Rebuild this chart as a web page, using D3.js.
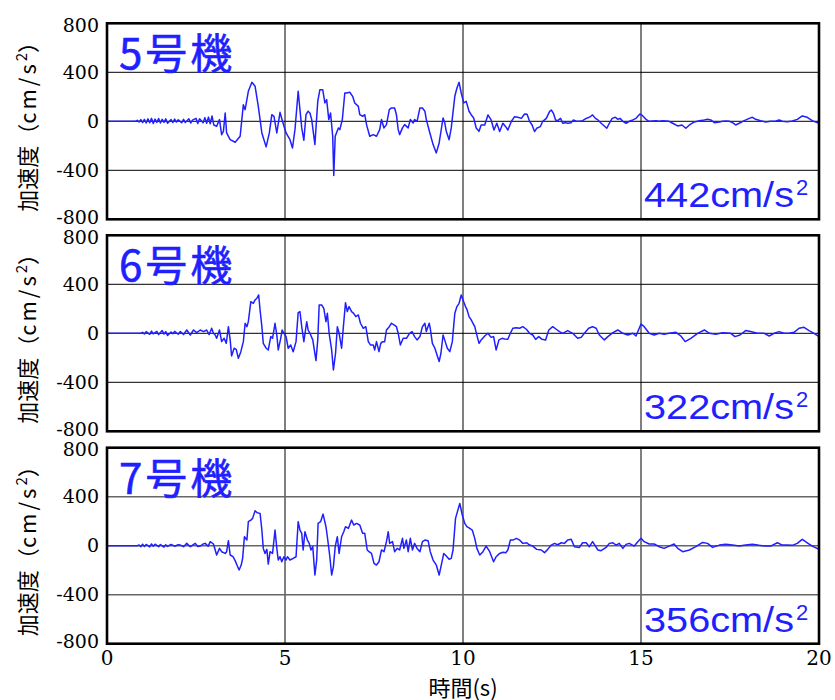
<!DOCTYPE html>
<html>
<head>
<meta charset="utf-8">
<script src="https://cdn.jsdelivr.net/npm/d3@7"></script>
<style>
  body { margin: 0; background: #fff; }
  svg { display: block; }
</style>
</head>
<body>
<div id="chart"></div>
<script>
// panel names and peak labels
var units = ["5号機", "6号機", "7号機"];
var peaks = ["442", "322", "356"];
var xTicks = [0, 5, 10, 15, 20];
var yTicks = [-800, -400, 0, 400, 800];

// acceleration records: [time s, cm/s2]
var unit5 = [[0,0],[0.8,0],[0.85,8],[0.9,-6],[0.95,14],[1.0,-10],[1.05,16],[1.1,-14],[1.15,20],[1.2,-12],[1.25,24],[1.3,-18],[1.35,18],[1.4,-10],[1.45,22],[1.5,-14],[1.55,16],[1.6,-8],[1.65,20],[1.7,-16],[1.8,14],[1.85,-10],[1.9,18],[1.95,-6],[2.0,12],[2.1,-12],[2.15,16],[2.2,-10],[2.3,20],[2.35,-14],[2.4,10],[2.5,24],[2.55,-18],[2.6,20],[2.7,-12],[2.75,30],[2.8,-16],[2.85,34],[2.9,-20],[2.95,44],[3.0,-30],
  [3.08,-41],[3.16,14],[3.22,-109],[3.27,-82],[3.32,68],[3.36,-95],[3.46,-150],[3.6,-171],[3.74,-122],[3.83,136],[3.88,95],[3.97,245],[4.07,318],[4.16,286],[4.25,122],[4.35,-95],[4.47,-209],[4.56,-95],[4.63,54],[4.69,41],[4.77,-95],[4.86,73],[4.93,0],[5.03,-95],[5.14,-150],[5.21,-218],[5.28,-68],[5.37,245],[5.42,95],[5.47,-54],[5.53,-155],[5.59,54],[5.65,82],[5.7,68],[5.75,14],[5.84,-190],[5.92,163],[5.98,258],[6.06,258],[6.12,150],[6.17,177],[6.23,14],[6.28,68],[6.34,-122],[6.37,-442],[6.41,-122],[6.5,-54],[6.54,-68],[6.61,14],[6.68,231],[6.73,231],[6.82,237],[6.9,204],[6.96,150],[7.06,122],[7.1,54],[7.18,41],[7.24,54],[7.29,-27],[7.38,-122],[7.48,-109],[7.57,-122],[7.66,-68],[7.71,14],[7.78,-54],[7.85,-27],[7.93,95],[7.99,109],[8.08,109],[8.13,54],[8.18,-68],[8.22,-109],[8.3,-54],[8.36,-27],[8.46,-54],[8.52,14],[8.6,-14],[8.64,14],[8.71,0],[8.79,109],[8.86,109],[8.93,82],[8.97,14],[9.07,-95],[9.16,-190],[9.25,-258],[9.33,-177],[9.44,27],[9.49,-14],[9.53,-82],[9.61,-150],[9.67,-54],[9.77,204],[9.83,272],[9.89,318],[9.95,231],[10.02,150],[10.09,163],[10.17,82],[10.23,54],[10.3,27],[10.37,-54],[10.45,-82],
  [10.51,-30],[10.61,-30],[10.7,52],[10.79,11],[10.87,-71],[10.95,-16],[11.03,-84],[11.12,-16],[11.2,-44],[11.26,-71],[11.36,0],[11.45,38],[11.54,33],[11.64,24],[11.73,60],[11.8,57],[11.87,0],[11.94,-30],[12.01,-84],[12.07,-57],[12.17,-44],[12.24,0],[12.34,24],[12.43,79],[12.48,92],[12.54,65],[12.6,11],[12.66,5],[12.74,24],[12.8,-16],[12.88,-11],[12.94,-16],[13.04,-11],[13.1,11],[13.18,0],[13.27,0],[13.36,5],[13.46,24],[13.55,33],[13.64,52],[13.72,24],[13.79,11],[13.88,-16],[13.97,-38],[14.04,-57],[14.11,-16],[14.19,24],[14.28,33],[14.35,16],[14.41,24],[14.49,0],[14.58,-16],[14.67,0],[14.77,11],[14.86,24],[14.97,60],[15.05,44],[15.14,16],[15.23,0],[15.33,3],[15.42,5],[15.51,0],[15.61,5],[15.7,3],[15.79,0],[15.89,-16],[16.03,-38],[16.15,-30],[16.26,-57],[16.36,-30],[16.5,-5],[16.64,5],[16.78,11],[16.87,16],[16.96,11],[17.06,-11],[17.2,-5],[17.29,0],[17.38,3],[17.48,0],[17.57,-11],[17.66,-30],[17.76,-16],[17.9,5],[18.04,24],[18.13,33],[18.22,16],[18.36,5],[18.5,-5],[18.64,0],[18.79,3],[18.88,11],[18.97,0],[19.11,-3],[19.25,3],[19.39,16],[19.53,44],[19.67,33],[19.81,5],[19.95,-11],[20,-11]];

var unit6 = [[0,0],[0.95,0],[1.0,8],[1.05,-6],[1.1,14],[1.2,-8],[1.25,18],[1.3,-4],[1.4,16],[1.45,-10],[1.55,22],[1.6,-6],[1.65,14],[1.7,-18],[1.8,10],[1.85,-4],[1.9,16],[2.0,-8],
  [2.06,14],[2.15,-10],[2.24,27],[2.34,-14],[2.43,27],[2.52,5],[2.62,27],[2.71,14],[2.8,27],[2.87,-10],[2.94,41],[2.99,0],[3.04,-14],[3.08,-41],[3.16,27],[3.22,-68],[3.29,-41],[3.35,-82],[3.41,54],[3.46,-54],[3.5,-185],[3.57,-122],[3.63,-131],[3.69,-204],[3.76,-150],[3.83,-68],[3.88,82],[3.93,54],[3.97,95],[4.04,258],[4.11,245],[4.16,272],[4.21,286],[4.26,313],[4.3,190],[4.35,54],[4.39,-82],[4.47,-122],[4.53,-136],[4.6,-27],[4.65,-41],[4.72,82],[4.77,-14],[4.81,-136],[4.88,-41],[4.92,27],[4.97,0],[5.03,-27],[5.09,-122],[5.16,-95],[5.23,-150],[5.31,-68],[5.37,169],[5.42,177],[5.47,54],[5.53,-68],[5.61,95],[5.65,27],[5.7,0],[5.78,-54],[5.87,-223],[5.92,-54],[5.96,231],[6.03,231],[6.09,204],[6.15,95],[6.19,163],[6.24,0],[6.31,-136],[6.36,-299],[6.42,-163],[6.47,54],[6.52,0],[6.59,-122],[6.64,54],[6.7,250],[6.75,177],[6.8,218],[6.87,177],[6.93,163],[6.99,136],[7.06,150],[7.12,82],[7.2,41],[7.27,54],[7.34,-68],[7.4,-95],[7.48,-95],[7.52,-136],[7.57,-68],[7.64,-150],[7.69,-82],[7.74,-68],[7.8,-68],[7.85,27],[7.93,54],[7.99,82],[8.06,68],[8.13,54],[8.18,0],[8.24,-95],[8.32,-41],[8.41,-41],[8.5,0],[8.57,14],[8.64,-27],[8.71,-54],[8.79,-27],[8.86,54],[8.93,82],[8.97,14],[9.05,82],[9.08,41],[9.14,-82],[9.21,-122],[9.27,-177],[9.33,-231],[9.38,-163],[9.44,-14],[9.5,-68],[9.56,-122],[9.63,-150],[9.7,-68],[9.77,163],[9.83,218],[9.89,245],[9.95,313],[10.0,272],[10.07,218],[10.11,196],[10.17,136],[10.23,109],[10.33,54],[10.4,-27],
  [10.45,-82],[10.51,-54],[10.61,-22],[10.7,0],[10.79,-33],[10.86,-27],[10.93,-136],[11.01,-54],[11.1,-41],[11.17,-46],[11.26,-49],[11.33,0],[11.4,41],[11.5,46],[11.59,41],[11.68,54],[11.78,33],[11.87,0],[11.96,-14],[12.04,-49],[12.13,-27],[12.22,-49],[12.32,-54],[12.41,27],[12.52,54],[12.62,33],[12.71,14],[12.8,0],[12.94,22],[13.08,0],[13.22,-41],[13.32,-33],[13.41,0],[13.53,41],[13.64,54],[13.74,41],[13.83,-14],[13.97,-54],[14.07,-27],[14.21,5],[14.35,27],[14.49,0],[14.63,-14],[14.77,0],[14.86,-22],[15.0,76],[15.09,54],[15.23,0],[15.37,-14],[15.51,0],[15.65,-8],[15.79,0],[15.98,8],[16.12,-22],[16.24,-68],[16.4,-41],[16.59,0],[16.78,27],[16.92,0],[17.1,-8],[17.29,5],[17.52,0],[17.64,-27],[17.78,-14],[17.94,22],[18.08,14],[18.27,0],[18.46,0],[18.6,-22],[18.74,0],[18.88,14],[19.02,0],[19.16,0],[19.3,8],[19.44,41],[19.58,49],[19.72,22],[19.86,0],[20,-27]];

var unit7 = [[0,0],[0.85,0],[0.9,6],[0.95,-8],[1.0,12],[1.05,-6],[1.1,10],[1.2,-10],[1.25,14],[1.3,-4],[1.35,12],[1.45,-8],[1.5,10],[1.6,-12],[1.65,8],[1.7,-6],[1.8,10],[1.9,-4],[2.0,8],
  [2.06,5],[2.15,-8],[2.24,19],[2.34,-8],[2.48,19],[2.55,-6],[2.62,-3],[2.7,14],[2.76,19],[2.84,-5],[2.9,33],[2.99,14],[3.08,-76],[3.16,-22],[3.22,-49],[3.32,-63],[3.36,-49],[3.41,41],[3.46,-76],[3.54,-90],[3.6,-122],[3.65,-158],[3.71,-199],[3.77,-158],[3.81,-103],[3.86,73],[3.93,46],[3.97,196],[4.04,209],[4.09,223],[4.16,286],[4.22,269],[4.3,264],[4.35,128],[4.39,-22],[4.44,-63],[4.49,-30],[4.53,-150],[4.58,-49],[4.65,-63],[4.72,128],[4.77,-22],[4.81,-117],[4.86,-90],[4.91,-130],[4.97,-90],[5.03,-117],[5.07,-90],[5.14,-117],[5.23,-103],[5.31,-90],[5.37,196],[5.42,128],[5.47,101],[5.51,-35],[5.56,114],[5.63,46],[5.68,19],[5.73,-35],[5.78,-8],[5.84,-239],[5.89,-117],[5.93,182],[6.0,196],[6.07,258],[6.15,155],[6.19,73],[6.26,-90],[6.31,-239],[6.36,-171],[6.41,-8],[6.47,73],[6.52,-63],[6.59,73],[6.65,114],[6.7,155],[6.78,141],[6.87,209],[6.93,169],[7.01,182],[7.1,169],[7.18,101],[7.24,101],[7.31,-35],[7.36,-49],[7.43,-63],[7.5,-144],[7.57,-158],[7.64,-131],[7.71,-35],[7.78,-49],[7.85,33],[7.9,114],[7.94,19],[8.02,33],[8.08,-49],[8.15,-22],[8.22,-35],[8.3,60],[8.34,-22],[8.41,46],[8.46,-49],[8.52,60],[8.58,-35],[8.64,19],[8.71,-22],[8.79,-49],[8.86,33],[8.93,46],[9.02,41],[9.08,-49],[9.16,-117],[9.25,-158],[9.33,-239],[9.39,-158],[9.46,-63],[9.53,-84],[9.61,-111],[9.67,-103],[9.72,-35],[9.79,223],[9.83,264],[9.91,345],[9.98,250],[10.05,182],[10.11,155],[10.19,141],[10.26,128],[10.33,60],[10.39,-22],
  [10.47,-76],[10.56,-49],[10.65,-3],[10.75,-49],[10.86,-131],[10.93,-90],[11.03,-63],[11.12,-54],[11.2,-57],[11.26,-35],[11.33,46],[11.4,46],[11.5,60],[11.59,46],[11.68,19],[11.79,24],[11.87,5],[11.96,-3],[12.07,-30],[12.2,-35],[12.29,-57],[12.38,-30],[12.48,5],[12.57,19],[12.66,8],[12.76,24],[12.85,19],[12.94,46],[13.04,52],[13.13,-8],[13.27,-14],[13.36,24],[13.46,24],[13.55,-8],[13.64,33],[13.79,-35],[13.88,-41],[14.02,-14],[14.11,19],[14.21,24],[14.3,5],[14.39,19],[14.49,-22],[14.58,11],[14.67,19],[14.81,-3],[14.91,33],[15.0,60],[15.09,33],[15.23,14],[15.37,14],[15.51,-8],[15.65,-22],[15.79,-3],[15.93,14],[16.03,-22],[16.17,-49],[16.36,-35],[16.54,-8],[16.73,27],[16.87,19],[17.01,-14],[17.2,5],[17.38,11],[17.57,5],[17.76,-3],[17.94,5],[18.13,11],[18.32,3],[18.5,-3],[18.64,-3],[18.83,24],[18.97,5],[19.11,5],[19.25,3],[19.39,19],[19.53,52],[19.67,24],[19.81,-3],[20,-30]];

var records = [unit5, unit6, unit7];

var width = 835, height = 700;
var left = 107, right = 819;
var panelTops = [23.3, 235.3, 447.7];
var panelH = 196;
var blue = "#1f1fff";
var gothic = "'Noto Sans CJK JP'";
var mincho = "'DejaVu Serif'";

var svg = d3.select("#chart")
  .append("svg")
  .attr("width", width)
  .attr("height", height);

var x = d3.scaleLinear().domain([0, 20]).range([left, right]);

records.forEach(function (rec, i) {
  var top = panelTops[i];
  var y = d3.scaleLinear().domain([-800, 800]).range([top + panelH, top]);
  var g = svg.append("g");

  // clip so the trace stays inside the frame
  g.append("defs").append("clipPath")
    .attr("id", "clip" + i)
    .append("rect")
    .attr("x", left).attr("y", top)
    .attr("width", right - left).attr("height", panelH);

  // grid
  g.selectAll(".vgrid")
    .data(xTicks.slice(1, -1))
    .enter().append("line")
    .attr("x1", d => x(d)).attr("x2", d => x(d))
    .attr("y1", top).attr("y2", top + panelH)
    .attr("stroke", "#000").attr("stroke-width", 1);
  g.selectAll(".hgrid")
    .data(yTicks.slice(1, -1))
    .enter().append("line")
    .attr("x1", left).attr("x2", right)
    .attr("y1", d => y(d)).attr("y2", d => y(d))
    .attr("stroke", i == 2 ? "#666" : "#000")
    .attr("stroke-width", i == 2 ? 1.6 : 1);

  // trace
  g.append("path")
    .datum(rec)
    .attr("clip-path", "url(#clip" + i + ")")
    .attr("fill", "none")
    .attr("stroke", blue)
    .attr("stroke-width", 1.5)
    .attr("stroke-linejoin", "round")
    .attr("d", d3.line().x(d => x(d[0])).y(d => y(d[1])));

  // frame
  g.append("rect")
    .attr("x", left).attr("y", top)
    .attr("width", right - left).attr("height", panelH)
    .attr("fill", "none")
    .attr("stroke", "#000")
    .attr("stroke-width", 2.6);

  // y tick labels, drawn as plain text from the scale
  g.selectAll(".ylab")
    .data(yTicks)
    .enter().append("text")
    .attr("x", left - 8)
    .attr("y", d => y(d) + (d == 800 ? 2 : d == -800 ? -2 : 0))
    .attr("dy", "0.35em")
    .attr("text-anchor", "end")
    .style("font-family", mincho)
    .style("font-size", "19px")
    .attr("fill", "#000")
    .text(d => String(d));

  // y title
  var cy = top + panelH / 2;
  var yt = g.append("text")
    .attr("transform", "translate(36," + cy + ") rotate(-90)")
    .attr("text-anchor", "middle")
    .style("font-family", gothic)
    .style("font-size", "22px")
    .attr("fill", "#000");
  yt.append("tspan").text("加速度（");
  yt.append("tspan").attr("letter-spacing", 3).text("cm/s");
  yt.append("tspan").style("font-size", "15px").attr("dy", -9).text("2");
  yt.append("tspan").attr("dy", 9).text("）");

  // unit name
  g.append("text")
    .attr("x", 119)
    .attr("y", top + 46)
    .style("font-family", gothic)
    .style("font-size", "42px")
    .attr("letter-spacing", 3)
    .attr("fill", blue)
    .attr("stroke", blue)
    .attr("stroke-width", 0.6)
    .text(units[i]);

  // peak value
  var pk = g.append("text")
    .attr("x", 644)
    .attr("y", top + panelH - 12)
    .style("font-family", "'Liberation Sans'")
    .style("font-size", "35px")
    .attr("fill", blue);
  pk.append("tspan").attr("textLength", 150).attr("lengthAdjust", "spacingAndGlyphs").text(peaks[i] + "cm/s");
  pk.append("tspan").style("font-size", "22px").attr("dy", -12).attr("dx", 2).text("2");
});

// x tick labels under the last panel
var bottom = panelTops[2] + panelH;
svg.selectAll(".xlab")
  .data(xTicks)
  .enter().append("text")
  .attr("x", d => x(d))
  .attr("y", bottom + 21)
  .attr("text-anchor", "middle")
  .style("font-family", mincho)
  .style("font-size", "20px")
  .attr("fill", "#000")
  .text(d => String(d));

svg.append("text")
  .attr("x", (left + right) / 2)
  .attr("y", 696)
  .attr("text-anchor", "middle")
  .style("font-family", gothic)
  .style("font-size", "22px")
  .attr("fill", "#000")
  .text("時間(s)");
</script>
</body>
</html>
